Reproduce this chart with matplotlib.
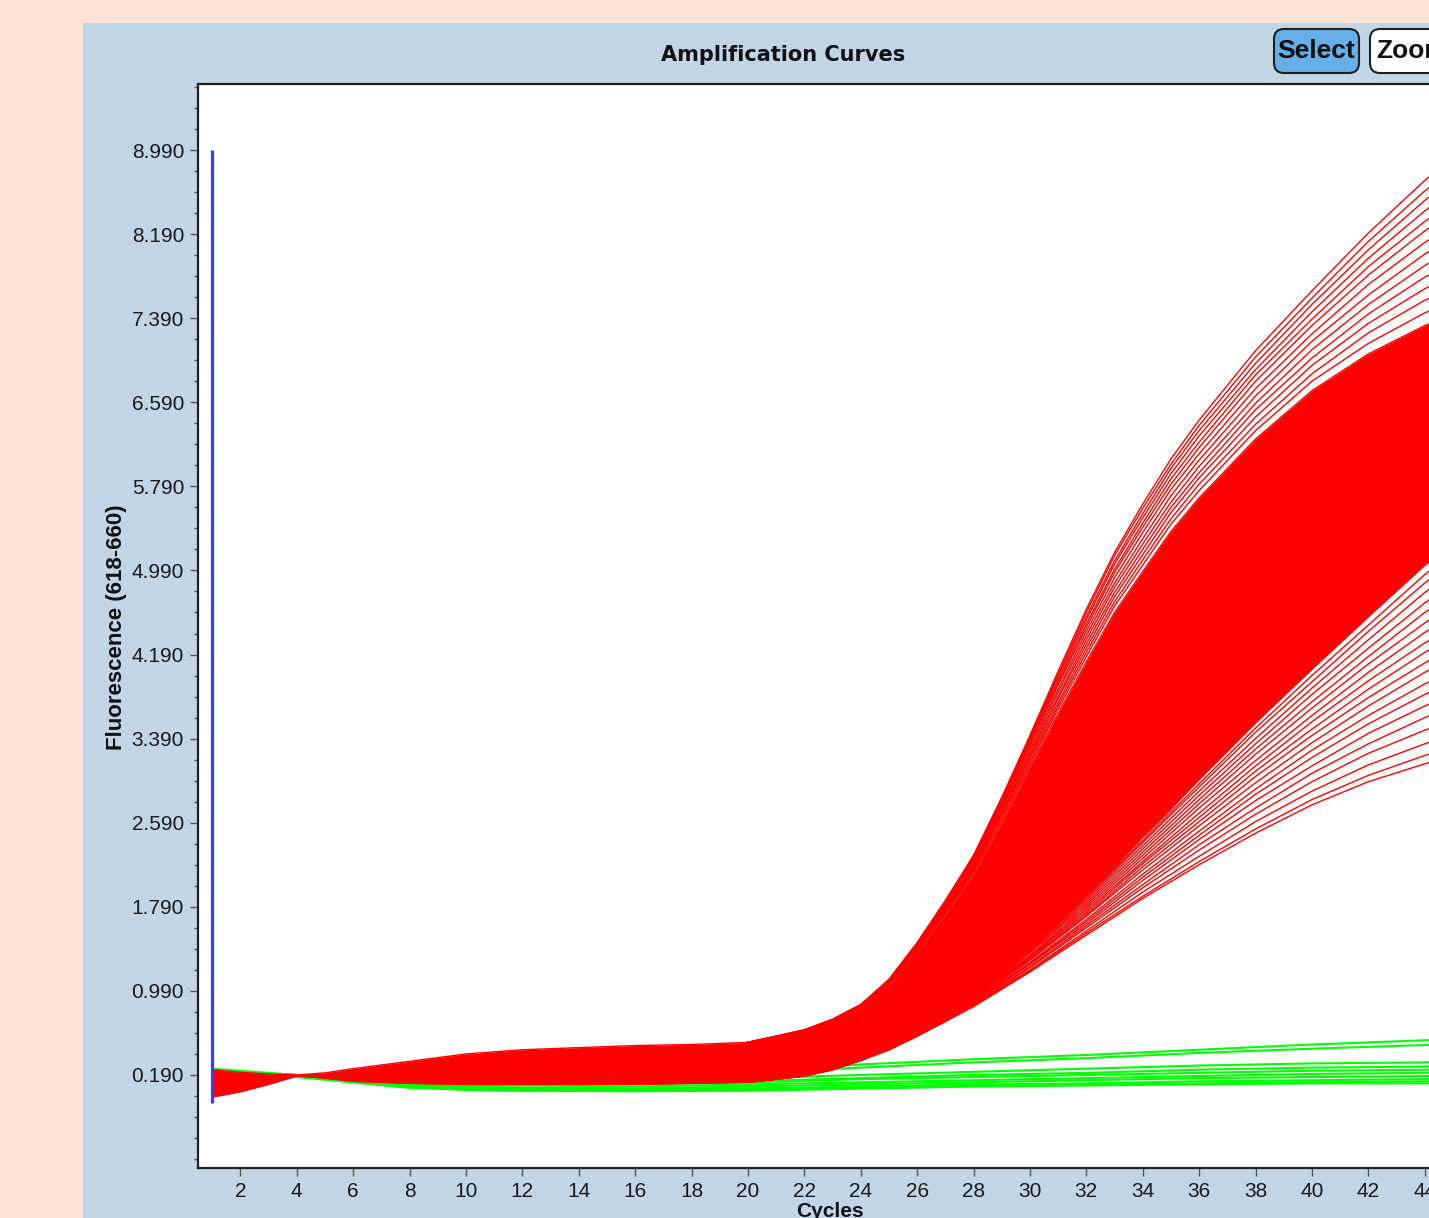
#!/usr/bin/env python
# qPCR amplification curves, screenshot style

import matplotlib.pyplot as plt
from matplotlib.patches import Rectangle, FancyBboxPatch
from matplotlib.ticker import FixedLocator, FormatStrFormatter

plt.rcParams['font.family'] = ['Liberation Sans', 'DejaVu Sans']

# dense red core: upper / lower edges
band_cyc = [1, 2, 3, 4, 5, 6, 8, 10, 12, 14, 16, 18, 20, 22, 23, 24, 25, 26, 27,
            28, 29, 30, 31, 32, 33, 34, 35, 36, 38, 40, 42, 44, 45]
band_upper = [0.24, 0.215, 0.20, 0.19, 0.21, 0.25, 0.32, 0.39, 0.43, 0.45, 0.47,
              0.48, 0.50, 0.60, 0.69, 0.82, 1.04, 1.36, 1.72, 2.10, 2.59, 3.12,
              3.63, 4.12, 4.59, 4.98, 5.36, 5.68, 6.24, 6.70, 7.05, 7.32, 7.42]
band_lower = [-0.02, 0.03, 0.10, 0.18, 0.16, 0.13, 0.11, 0.10, 0.10, 0.10, 0.10,
              0.11, 0.12, 0.19, 0.25, 0.33, 0.44, 0.58, 0.76, 0.96, 1.17, 1.40,
              1.64, 1.90, 2.17, 2.45, 2.72, 3.00, 3.54, 4.05, 4.55, 5.04, 5.25]

# separate red curves above the core (early, high plateau)
upper_cyc = [20, 22, 23, 24, 25, 26, 27, 28, 29, 30, 31, 32, 33, 34, 35, 36,
             38, 40, 42, 44, 45]
red_upper_curves = [
    [0.50, 0.62, 0.72, 0.86, 1.10, 1.45, 1.85, 2.28, 2.83, 3.42, 4.03, 4.62, 5.16, 5.62, 6.05, 6.42, 7.08, 7.65, 8.20, 8.70, 8.92],
    [0.50, 0.62, 0.72, 0.86, 1.09, 1.44, 1.84, 2.27, 2.82, 3.40, 4.00, 4.59, 5.13, 5.58, 6.00, 6.37, 7.02, 7.58, 8.12, 8.60, 8.81],
    [0.50, 0.61, 0.71, 0.85, 1.09, 1.43, 1.83, 2.26, 2.80, 3.38, 3.98, 4.55, 5.08, 5.53, 5.96, 6.32, 6.96, 7.52, 8.04, 8.51, 8.71],
    [0.50, 0.61, 0.71, 0.85, 1.08, 1.42, 1.82, 2.24, 2.78, 3.36, 3.95, 4.52, 5.05, 5.49, 5.91, 6.27, 6.90, 7.45, 7.96, 8.41, 8.61],
    [0.50, 0.61, 0.71, 0.85, 1.08, 1.42, 1.81, 2.23, 2.77, 3.34, 3.92, 4.48, 5.00, 5.44, 5.86, 6.21, 6.85, 7.38, 7.88, 8.31, 8.50],
    [0.50, 0.61, 0.71, 0.84, 1.07, 1.41, 1.80, 2.22, 2.75, 3.32, 3.90, 4.45, 4.97, 5.40, 5.81, 6.16, 6.79, 7.32, 7.80, 8.22, 8.40],
    [0.50, 0.61, 0.70, 0.84, 1.07, 1.40, 1.79, 2.20, 2.73, 3.29, 3.86, 4.41, 4.92, 5.35, 5.76, 6.10, 6.72, 7.24, 7.71, 8.11, 8.28],
    [0.50, 0.61, 0.70, 0.84, 1.06, 1.40, 1.78, 2.19, 2.71, 3.27, 3.83, 4.37, 4.87, 5.29, 5.70, 6.04, 6.65, 7.17, 7.61, 8.00, 8.16],
    [0.50, 0.61, 0.70, 0.83, 1.06, 1.39, 1.77, 2.17, 2.69, 3.24, 3.79, 4.33, 4.83, 5.24, 5.64, 5.98, 6.58, 7.09, 7.52, 7.89, 8.04],
    [0.50, 0.60, 0.70, 0.83, 1.05, 1.38, 1.76, 2.16, 2.67, 3.22, 3.77, 4.29, 4.78, 5.19, 5.59, 5.92, 6.52, 7.01, 7.43, 7.78, 7.92],
    [0.50, 0.60, 0.70, 0.83, 1.05, 1.38, 1.75, 2.15, 2.66, 3.20, 3.73, 4.25, 4.74, 5.14, 5.54, 5.87, 6.45, 6.94, 7.34, 7.67, 7.80],
    [0.50, 0.60, 0.69, 0.82, 1.05, 1.37, 1.74, 2.13, 2.63, 3.17, 3.70, 4.21, 4.69, 5.09, 5.48, 5.81, 6.38, 6.86, 7.25, 7.56, 7.68],
    [0.50, 0.60, 0.69, 0.82, 1.04, 1.36, 1.73, 2.12, 2.62, 3.15, 3.67, 4.17, 4.65, 5.04, 5.43, 5.75, 6.32, 6.79, 7.15, 7.44, 7.56],
]

# separate red curves below the core (late, low plateau)
lower_cyc = [20, 22, 23, 24, 25, 26, 27, 28, 30, 32, 34, 36, 38, 40, 42, 44, 45]
red_lower_curves = [
    [0.12, 0.18, 0.24, 0.33, 0.43, 0.56, 0.70, 0.84, 1.17, 1.52, 1.87, 2.19, 2.49, 2.76, 2.98, 3.15, 3.23],
    [0.12, 0.18, 0.24, 0.33, 0.43, 0.56, 0.70, 0.85, 1.18, 1.54, 1.89, 2.22, 2.53, 2.81, 3.04, 3.23, 3.31],
    [0.12, 0.18, 0.24, 0.33, 0.43, 0.56, 0.70, 0.85, 1.19, 1.56, 1.93, 2.27, 2.60, 2.89, 3.14, 3.34, 3.43],
    [0.12, 0.18, 0.24, 0.33, 0.43, 0.56, 0.71, 0.86, 1.21, 1.59, 1.97, 2.33, 2.67, 2.98, 3.25, 3.47, 3.57],
    [0.12, 0.18, 0.24, 0.33, 0.43, 0.56, 0.71, 0.87, 1.22, 1.61, 2.00, 2.38, 2.73, 3.06, 3.34, 3.59, 3.70],
    [0.12, 0.19, 0.25, 0.33, 0.44, 0.57, 0.72, 0.88, 1.24, 1.63, 2.04, 2.43, 2.80, 3.13, 3.44, 3.70, 3.82],
    [0.12, 0.19, 0.25, 0.33, 0.44, 0.57, 0.72, 0.88, 1.25, 1.65, 2.07, 2.47, 2.86, 3.21, 3.53, 3.81, 3.94],
    [0.12, 0.19, 0.25, 0.33, 0.44, 0.57, 0.73, 0.89, 1.26, 1.67, 2.10, 2.51, 2.91, 3.28, 3.61, 3.91, 4.04],
    [0.12, 0.19, 0.25, 0.33, 0.44, 0.57, 0.73, 0.90, 1.28, 1.70, 2.14, 2.56, 2.97, 3.35, 3.70, 4.02, 4.16],
    [0.12, 0.19, 0.25, 0.33, 0.44, 0.57, 0.73, 0.90, 1.29, 1.71, 2.17, 2.60, 3.03, 3.42, 3.78, 4.11, 4.26],
    [0.12, 0.19, 0.25, 0.33, 0.44, 0.57, 0.74, 0.91, 1.30, 1.73, 2.20, 2.64, 3.08, 3.48, 3.86, 4.21, 4.36],
    [0.12, 0.19, 0.25, 0.33, 0.44, 0.58, 0.74, 0.91, 1.31, 1.75, 2.22, 2.68, 3.13, 3.55, 3.94, 4.30, 4.46],
    [0.12, 0.19, 0.25, 0.33, 0.44, 0.58, 0.74, 0.92, 1.32, 1.77, 2.25, 2.73, 3.18, 3.61, 4.02, 4.40, 4.56],
    [0.12, 0.19, 0.25, 0.33, 0.44, 0.58, 0.75, 0.93, 1.33, 1.79, 2.28, 2.77, 3.24, 3.68, 4.10, 4.49, 4.66],
    [0.12, 0.19, 0.25, 0.33, 0.44, 0.58, 0.75, 0.93, 1.35, 1.81, 2.31, 2.81, 3.29, 3.74, 4.17, 4.59, 4.77],
    [0.12, 0.19, 0.25, 0.33, 0.44, 0.58, 0.75, 0.94, 1.36, 1.83, 2.34, 2.85, 3.34, 3.81, 4.25, 4.68, 4.87],
    [0.12, 0.19, 0.25, 0.33, 0.44, 0.58, 0.75, 0.94, 1.37, 1.85, 2.37, 2.89, 3.39, 3.87, 4.33, 4.78, 4.97],
    [0.12, 0.19, 0.25, 0.33, 0.44, 0.58, 0.76, 0.95, 1.38, 1.87, 2.40, 2.93, 3.45, 3.93, 4.41, 4.87, 5.07],
    [0.12, 0.19, 0.25, 0.33, 0.44, 0.58, 0.76, 0.95, 1.39, 1.88, 2.42, 2.96, 3.49, 3.99, 4.47, 4.95, 5.15],
]

# negative samples (green)
green_cyc = [1, 2, 3, 4, 6, 8, 10, 12, 16, 20, 24, 28, 32, 36, 40, 44, 45]
green_curves = [
    [0.25, 0.23, 0.21, 0.19, 0.18, 0.17, 0.17, 0.18, 0.20, 0.23, 0.29, 0.34, 0.38, 0.43, 0.48, 0.52, 0.53],
    [0.24, 0.22, 0.20, 0.19, 0.17, 0.16, 0.16, 0.17, 0.19, 0.21, 0.26, 0.31, 0.35, 0.40, 0.44, 0.475, 0.485],
    [0.24, 0.22, 0.20, 0.19, 0.16, 0.14, 0.13, 0.13, 0.14, 0.16, 0.19, 0.22, 0.25, 0.28, 0.30, 0.31, 0.32],
    [0.23, 0.21, 0.20, 0.19, 0.15, 0.12, 0.11, 0.11, 0.12, 0.13, 0.16, 0.19, 0.21, 0.24, 0.26, 0.27, 0.28],
    [0.23, 0.21, 0.20, 0.19, 0.14, 0.11, 0.09, 0.09, 0.10, 0.12, 0.15, 0.17, 0.19, 0.21, 0.23, 0.24, 0.245],
    [0.22, 0.21, 0.20, 0.18, 0.14, 0.10, 0.08, 0.07, 0.08, 0.10, 0.12, 0.14, 0.16, 0.18, 0.20, 0.21, 0.215],
    [0.22, 0.20, 0.19, 0.18, 0.13, 0.09, 0.07, 0.06, 0.06, 0.08, 0.10, 0.12, 0.14, 0.16, 0.17, 0.18, 0.185],
    [0.21, 0.20, 0.19, 0.18, 0.13, 0.08, 0.06, 0.05, 0.05, 0.06, 0.08, 0.10, 0.11, 0.13, 0.14, 0.15, 0.155],
    [0.21, 0.20, 0.19, 0.18, 0.12, 0.07, 0.05, 0.04, 0.04, 0.05, 0.07, 0.09, 0.10, 0.11, 0.12, 0.13, 0.13],
    [0.21, 0.19, 0.18, 0.17, 0.12, 0.07, 0.05, 0.04, 0.035, 0.04, 0.06, 0.08, 0.09, 0.10, 0.11, 0.11, 0.115],
]

# start marker (blue)
marker_cycle = 1
marker_range = (-0.076, 8.99)

y_ticks = [0.19 + 0.8 * i for i in range(12)]
y_minor = [-0.61 + 0.2 * i for i in range(52)]
x_ticks = list(range(2, 47, 2))

W, H = 1429, 1218
fig = plt.figure(figsize=(W / 100, H / 100), dpi=100, facecolor='#fbe4d6')

# pixel-space background layer for the panel, buttons and labels
bg = fig.add_axes([0, 0, 1, 1], zorder=0)
bg.set_xlim(0, W)
bg.set_ylim(H, 0)
bg.axis('off')
bg.add_patch(Rectangle((83, 23), 1500, 1300, fc='#c2d5e6', ec='none'))
bg.add_patch(FancyBboxPatch((1274, 29), 85, 44, boxstyle='round,pad=0,rounding_size=10',
                            fc='#66aee8', ec='#1f1f1f', lw=1.5))
bg.text(1316.5, 51, 'Select', ha='center', va='center', fontsize=19,
        fontweight='bold', color='#111111')
bg.add_patch(FancyBboxPatch((1370, 29), 90, 44, boxstyle='round,pad=0,rounding_size=10',
                            fc='white', ec='#1f1f1f', lw=1.5))
bg.text(1376, 51, 'Zoom', ha='left', va='center', fontsize=19,
        fontweight='bold', color='#111111')
bg.text(783, 55, 'Amplification Curves', ha='center', va='center', fontsize=15,
        fontweight='bold', family='DejaVu Sans', color='#111111')
bg.text(117, 627, 'Fluorescence (618-660)', ha='center', va='center', rotation=90,
        fontsize=16, fontweight='bold', color='#111111')
bg.text(830, 1202, 'Cycles', ha='center', va='top', fontsize=15,
        fontweight='bold', color='#111111')

# main plot; its right part runs past the figure edge like the screenshot
ax = fig.add_axes([198 / W, 50 / H, 1283.1 / W, 1084 / H], zorder=1)
ax.set_facecolor('white')

for g in green_curves:
    ax.plot(green_cyc, g, color='#00ff00', lw=1.5, zorder=2)

ax.fill_between(band_cyc, band_lower, band_upper, color='#ff0000', lw=0, zorder=3)
ax.plot(band_cyc, band_upper, color='#ff0000', lw=1.0, zorder=3)
ax.plot(band_cyc, band_lower, color='#ff0000', lw=1.0, zorder=3)
for r in red_upper_curves:
    ax.plot(upper_cyc, r, color='#ff0000', lw=1.0, zorder=3)
for r in red_lower_curves:
    ax.plot(lower_cyc, r, color='#ff0000', lw=1.0, zorder=3)

ax.plot([marker_cycle, marker_cycle], marker_range, color='#3b3bff', lw=2.3,
        solid_capstyle='butt', zorder=4)

ax.set_xlim(0.5, 46)
ax.set_ylim(-0.695, 9.618)
ax.xaxis.set_major_locator(FixedLocator(x_ticks))
ax.yaxis.set_major_locator(FixedLocator(y_ticks))
ax.yaxis.set_minor_locator(FixedLocator(y_minor))
ax.yaxis.set_major_formatter(FormatStrFormatter('%.3f'))
ax.tick_params(axis='both', which='major', direction='out', length=6, width=1,
               color='#555555', labelsize=15, labelcolor='#1a1a1a', pad=4)
ax.tick_params(axis='y', which='minor', direction='out', length=3, width=1,
               color='#555555')
for s in ax.spines.values():
    s.set_linewidth(1.6)
    s.set_color('#1f1f1f')

fig.savefig('out.png', dpi=100, facecolor=fig.get_facecolor())
